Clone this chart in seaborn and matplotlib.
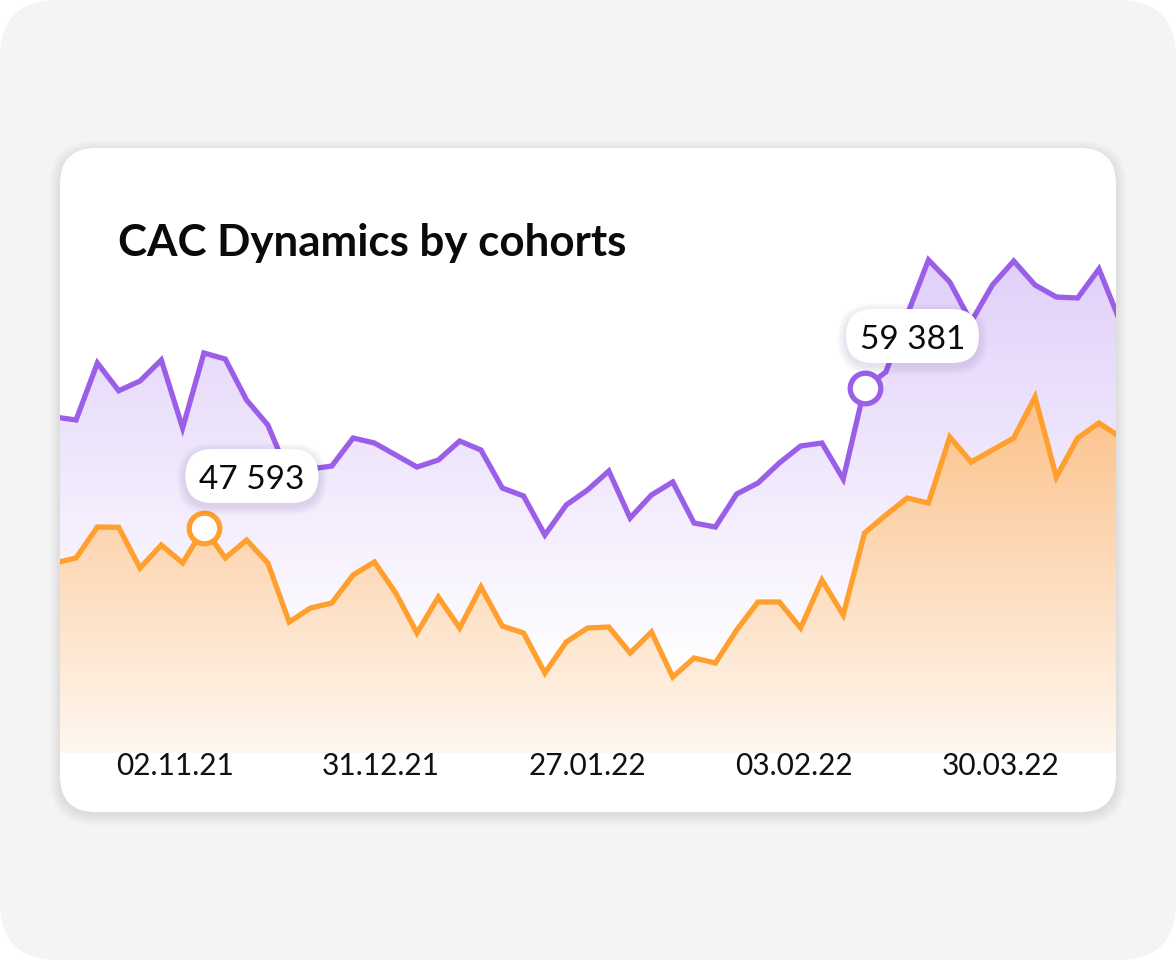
import numpy as np
import pandas as pd
import matplotlib
matplotlib.use("Agg")
import matplotlib.pyplot as plt
import seaborn as sns
from matplotlib.patches import FancyBboxPatch, PathPatch
from matplotlib.transforms import IdentityTransform
from matplotlib.colors import to_rgb

# ---------------- data ----------------
title = "CAC Dynamics by cohorts"
tick_labels = ["02.11.21", "31.12.21", "27.01.22", "03.02.22", "30.03.22"]

purple_values = [56939, 56687, 61486, 59150, 59970, 61739, 56013, 62328, 61823, 58371,
                 56266, 51971, 52561, 52813, 55171, 54750, 53740, 52729, 53319, 54918,
                 54161, 50961, 50287, 47004, 49530, 50793, 52392, 48435, 50372, 51466,
                 48014, 47677, 50456, 51382, 53066, 54497, 54750, 51719, 59381, 60728,
                 65528, 70159, 68306, 64938, 68054, 70074, 68054, 67043, 66959, 69401,
                 64938]
orange_values = [44646, 45067, 47677, 47650, 44225, 46162, 44646, 47593, 45067, 46583,
                 44646, 39678, 40857, 41278, 43636, 44730, 42120, 38752, 41783, 39173,
                 42625, 39341, 38752, 35384, 37994, 39173, 39257, 37068, 38836, 35047,
                 36647, 36226, 39005, 41362, 41362, 39173, 43215, 40268, 47172, 48688,
                 50119, 49698, 55255, 53150, 54161, 55171, 58623, 51887, 55171, 56434,
                 55255]
highlight_orange = 7
highlight_purple = 38

PURPLE = "#9a5ee8"
ORANGE = "#ff9f2e"
PURPLE_FILL = "#e1d0fa"
ORANGE_FILL = "#fcc189"

# ---------------- figure ----------------
sns.set_style("white")
plt.rcParams["font.family"] = ["Lato", "DejaVu Sans"]

W, H = 1176, 960
fig = plt.figure(figsize=(W / 100, H / 100), dpi=100)
fig.patch.set_facecolor("white")
ID = IdentityTransform()


def rrect(x, y_top, w, h, r, **kw):
    """rounded rect in pixel coords measured from the top-left"""
    return FancyBboxPatch((x, H - y_top - h), w, h,
                          boxstyle=f"round,pad=0,rounding_size={r}",
                          transform=ID, **kw)


# outer background
fig.add_artist(rrect(0, 0, W, H, 58, facecolor="#f4f4f4", edgecolor="none", zorder=-10))

# card shadow
cx0, cy0, cw, ch, cr = 60, 148, 1056, 664, 36
for k in range(1, 12):
    fig.add_artist(rrect(cx0 - k, cy0 - k + 3, cw + 2 * k, ch + 2 * k, cr + k,
                         facecolor="black", edgecolor="none", alpha=0.008, zorder=-9))
fig.add_artist(rrect(cx0, cy0, cw, ch, cr, facecolor="white", edgecolor="none", zorder=-8))

# title
fig.text(118 / W, 1 - 256 / H, title, fontsize=31.6, fontweight="bold", color="#0a0a0a",
         ha="left", va="baseline")

# axes
ax_top, ax_bot = 150, 753
ax = fig.add_axes([cx0 / W, 1 - ax_bot / H, cw / W, (ax_bot - ax_top) / H])
ax.patch.set_alpha(0)

idx = np.arange(len(purple_values))
df = pd.DataFrame({
    "idx": np.concatenate([idx, idx]),
    "value": purple_values + orange_values,
    "series": ["purple"] * len(idx) + ["orange"] * len(idx),
})

xmin, xmax = 0.246, 49.80
ymin, ymax = 28648, 79421


def gradient_fill(values, top_color, fade_value, z):
    """vertical gradient from top_color at the series maximum to white at fade_value"""
    vals = np.asarray(values, dtype=float)
    poly = ax.fill_between(idx, vals, ymin, facecolor="none", edgecolor="none")
    path = poly.get_paths()[0]
    clip = PathPatch(path, transform=ax.transData, facecolor="none", edgecolor="none")
    ax.add_patch(clip)
    n = 256
    t = np.linspace(0, 1, n)[:, None]
    c0 = np.array(to_rgb(top_color))
    c1 = np.ones(3)
    img = (c0 * (1 - t) + c1 * t)[:, None, :]
    im = ax.imshow(img, extent=[idx[0] - 1, idx[-1] + 1, fade_value, vals.max()],
                   aspect="auto", origin="upper", zorder=z, interpolation="bilinear")
    im.set_clip_path(clip)
    # solid white below the fade point (if inside the plot)
    if fade_value > ymin:
        low = ax.fill_between(idx, np.minimum(vals, fade_value), ymin,
                              facecolor="white", edgecolor="none", zorder=z)
    return im


gradient_fill(purple_values, PURPLE_FILL, 35600, 1)
gradient_fill(orange_values, ORANGE_FILL, 24400, 1.5)

sns.lineplot(data=df, x="idx", y="value", hue="series",
             palette={"purple": PURPLE, "orange": ORANGE},
             linewidth=3.8, legend=False, ax=ax, zorder=3)
for ln in ax.lines:
    ln.set_solid_joinstyle("miter")
    ln.set_solid_capstyle("butt")

ax.set_xlim(xmin, xmax)
ax.set_ylim(ymin, ymax)
for s in ax.spines.values():
    s.set_visible(False)
ax.set_yticks([])
ax.set_xlabel("")
ax.set_ylabel("")
tick_pos = xmin + (xmax - xmin) * np.array([0.1085, 0.304, 0.4995, 0.695, 0.8905])
ax.set_xticks(tick_pos, tick_labels)
ax.tick_params(axis="x", length=0, pad=-1, labelsize=21.5, labelcolor="#111111")

# highlighted points + value labels
for i, vals, col in [(highlight_orange, orange_values, ORANGE),
                     (highlight_purple, purple_values, PURPLE)]:
    v = vals[i]
    ax.plot([i], [v], marker="o", markersize=22, markerfacecolor="white",
            markeredgecolor=col, markeredgewidth=3.8, zorder=5, clip_on=False)
    px, py = ax.transData.transform((i, v))
    bx, by = px + 48, py + 52  # box centre, display coords
    bw, bh = 133, 54
    for k in range(1, 10):
        fig.add_artist(FancyBboxPatch((bx - bw / 2 - k, by - bh / 2 - k - 3), bw + 2 * k, bh + 2 * k,
                                      boxstyle=f"round,pad=0,rounding_size={bh / 2 + k}",
                                      transform=ID, facecolor="#3a2a55", edgecolor="none",
                                      alpha=0.012, zorder=6))
    fig.add_artist(FancyBboxPatch((bx - bw / 2, by - bh / 2), bw, bh,
                                  boxstyle=f"round,pad=0,rounding_size={bh / 2}",
                                  transform=ID, facecolor="white", edgecolor="none", zorder=7))
    fig.text(bx / W, (by - 13) / H, f"{v:,}".replace(",", " "), fontsize=24,
             color="#0a0a0a", ha="center", va="baseline", zorder=8)

fig.savefig("out.png", dpi=100)
